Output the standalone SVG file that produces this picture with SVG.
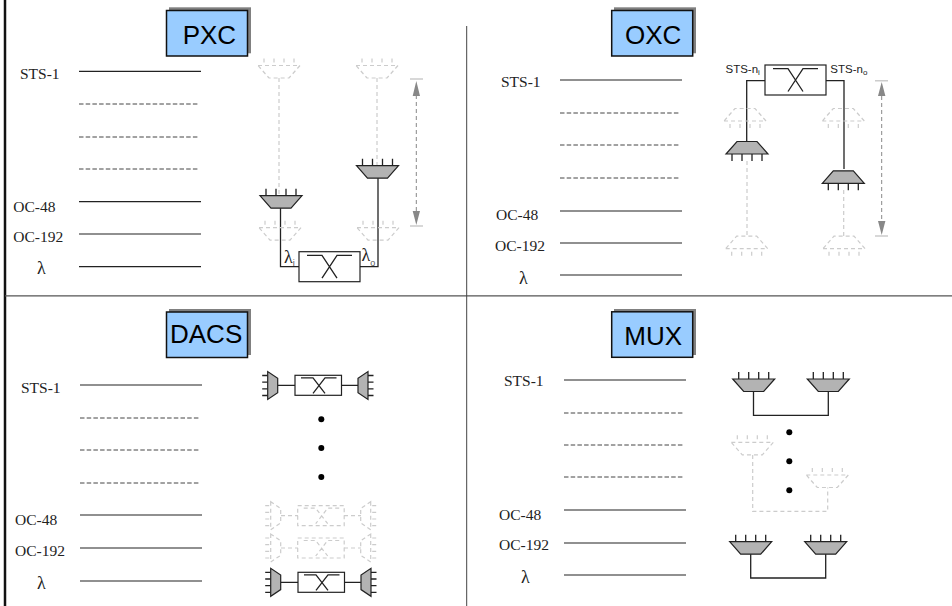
<svg xmlns="http://www.w3.org/2000/svg" width="952" height="606" viewBox="0 0 952 606">
<style>
.s{stroke:#222;stroke-width:1.3;fill:none}
.f{stroke:#ccc;stroke-width:1.2;fill:none;stroke-dasharray:4 3}
.l{stroke:#222;stroke-width:1.2;fill:none}
.d{stroke:#444;stroke-width:1;fill:none;stroke-dasharray:4.500 2.200}
.t{font-family:"Liberation Serif",serif;font-size:15.500px;fill:#222}
.big{font-size:18px}
.h{font-family:"Liberation Sans",Arial,sans-serif;font-size:26px;fill:#000}
.n{font-family:"Liberation Sans",Arial,sans-serif;font-size:11.500px;fill:#222}
.sub{font-size:8px}
.lam{font-family:"Liberation Serif",serif;font-size:18px;fill:#222}
.ls{font-family:"Liberation Sans",sans-serif;font-size:9px;fill:#555}
.tb{fill:#99ccff;stroke:#111;stroke-width:1.500}
.sh{fill:#808080}
.dot{fill:#000}
.ar{fill:#888}
.tick{stroke:#ccc;stroke-width:1.500}
.al{stroke:#888;stroke-width:1;stroke-dasharray:4 3}
</style>
<defs>
<g id="md"><path d="M-15-7V0M-5-7V0M5-7V0M15-7V0" class="s"/><path d="M-21 0H21L10 12.500H-10Z" fill="#b3b3b3" stroke="#222" stroke-width="1.200"/></g>
<g id="mdf"><path d="M-15-7V-2M-5-7V-2M5-7V-2M15-7V-2" class="f"/><path d="M-21 0H21L10 12.500H-10Z" class="f"/></g>
<g id="mu"><path d="M-15 7V0M-5 7V0M5 7V0M15 7V0" class="s"/><path d="M-21 0H21L10-12.500H-10Z" fill="#b3b3b3" stroke="#222" stroke-width="1.200"/></g>
<g id="muf"><path d="M-15 7V2M-5 7V2M5 7V2M15 7V2" class="f"/><path d="M-21 0H21L10-12.500H-10Z" class="f"/></g>
<g id="ml"><path d="M-5.500-10H0M-5.500-3.300H0M-5.500 3.300H0M-5.500 10H0" class="s"/><path d="M0-14V14L10 7.300V-7.300Z" fill="#b3b3b3" stroke="#222" stroke-width="1.200"/></g>
<g id="mr"><path d="M5.500-10H0M5.500-3.300H0M5.500 3.300H0M5.500 10H0" class="s"/><path d="M0-14V14L-10 7.300V-7.300Z" fill="#b3b3b3" stroke="#222" stroke-width="1.200"/></g>
<g id="mlf"><path d="M-5.500-10H-1M-5.500-3.300H-1M-5.500 3.300H-1M-5.500 10H-1" class="f"/><path d="M0-14V14L10 7.300V-7.300Z" class="f"/></g>
<g id="mrf"><path d="M5.500-10H1M5.500-3.300H1M5.500 3.300H1M5.500 10H1" class="f"/><path d="M0-14V14L-10 7.300V-7.300Z" class="f"/></g>
<g id="sw"><rect width="61" height="30" fill="#fff" stroke="#222" stroke-width="1.200"/><path d="M8 3.600H23L38 26.500M53 3.600H38L23 26.500" class="s"/></g>
<g id="ss"><rect width="46.500" height="20" fill="#fff" stroke="#222" stroke-width="1.200"/><path d="M6 2.500H18L30 18M41.500 2.500H30L18 18" class="s"/></g>
<g id="ssf"><rect width="46.500" height="20" class="f"/><path d="M6 2.500H18L30 18M41.500 2.500H30L18 18" class="f"/></g>
</defs>

<g id="frame">
<path d="M5 0V606" stroke="#111" stroke-width="2.500"/>
<path d="M5 295.800H952" stroke="#555" stroke-width="1.300"/>
<path d="M466.700 26V606" stroke="#444" stroke-width="1"/>
</g>

<g id="PXC-title"><rect class="sh" x="169" y="7.300" width="82" height="46"/><rect class="tb" x="166.500" y="10.500" width="81" height="45.500"/><text class="h" x="182.700" y="43.700">PXC</text></g>
<g id="OXC-title"><rect class="sh" x="614" y="7.300" width="82" height="46"/><rect class="tb" x="611.700" y="10.500" width="81" height="45.500"/><text class="h" x="625" y="43.700">OXC</text></g>
<g id="DACS-title"><rect class="sh" x="169" y="309" width="82" height="46"/><rect class="tb" x="166.500" y="312" width="81" height="45.500"/><text class="h" x="170" y="342.700">DACS</text></g>
<g id="MUX-title"><rect class="sh" x="614" y="309" width="82" height="46"/><rect class="tb" x="611.700" y="311.800" width="81" height="45.500"/><text class="h" x="624.300" y="345">MUX</text></g>

<g id="scales">
<path class="l" d="M79 71.300H201M79 201.700H201M79 234H201M79 266.700H201"/>
<path class="d" d="M79 104H198M79 137H198M79 169H198"/>
<path class="l" d="M560 80H682M560 211H682M560 243H682M560 275H682"/>
<path class="d" d="M560 113H680M560 145H680M560 178H680"/>
<path class="l" d="M80 385H202M80 515H202M80 548H202M80 581H202"/>
<path class="d" d="M80 418H199M80 450H199M80 483H199"/>
<path class="l" d="M564 380H686M564 510H686M564 543H686M564 575H686"/>
<path class="d" d="M564 413H683M564 445H683M564 477H683"/>
</g>
<g id="scale-labels">
<text class="t" x="20" y="79">STS-1</text><text class="t" x="13.300" y="212">OC-48</text><text class="t" x="13.300" y="242">OC-192</text><text class="t big" x="37" y="274">λ</text>
<text class="t" x="501" y="87">STS-1</text><text class="t" x="496" y="220">OC-48</text><text class="t" x="495" y="251">OC-192</text><text class="t big" x="519" y="284">λ</text>
<text class="t" x="21" y="393">STS-1</text><text class="t" x="15" y="525">OC-48</text><text class="t" x="15" y="556">OC-192</text><text class="t big" x="37" y="589">λ</text>
<text class="t" x="504" y="386">STS-1</text><text class="t" x="499" y="520">OC-48</text><text class="t" x="499" y="550">OC-192</text><text class="t big" x="521" y="583">λ</text>
</g>

<g id="connectors">
<path class="f" d="M279 78V195M377 78V165M747 161V236M843.700 190V236M752.700 455V511.300H827.700V487.500"/>
<path class="s" d="M280.500 208V266.700H299M378 178V266.700H360M765 80.700H746.700V142M826 80.700H844V169"/>
<path class="s" d="M277.700 385.300H295M341.700 385.300H358.300M281 582.300H298M344 582.300H361"/>
<path class="f" d="M281 515.700H298M344 515.700H361M281 548H298M344 548H361"/>
<path class="s" d="M753.500 391.700V415.300H828.300V391.700M750.700 554V578H825.700V554"/>
</g>

<g id="pxc-nodes">
<use href="#mdf" x="279" y="65.500"/><use href="#mdf" x="377" y="65.500"/>
<use href="#mdf" x="280" y="227.700"/><use href="#mdf" x="378" y="227.700"/>
<use href="#md" x="281" y="195.700"/><use href="#md" x="377.500" y="165.700"/>
<use href="#sw" x="299" y="251.700"/>
<text class="lam" x="284" y="263">λ<tspan class="ls" dy="3">i</tspan></text>
<text class="lam" x="361.500" y="261">λ<tspan class="ls" dy="5">o</tspan></text>
</g>
<g id="pxc-range">
<path class="al" d="M416.300 95V212"/><path class="tick" d="M410 79H423M410 226H423"/>
<path class="ar" d="M416.300 81L420 96H412.700ZM416.300 225L420 211H412.700Z"/>
</g>

<g id="oxc-nodes">
<use href="#muf" x="745" y="121"/><use href="#muf" x="843.300" y="121"/>
<use href="#muf" x="746.700" y="248.700"/><use href="#muf" x="844" y="248.700"/>
<use href="#mu" x="747" y="154"/><use href="#mu" x="843.300" y="183.300"/>
<use href="#sw" x="765" y="65"/>
<text class="n" x="725.500" y="73">STS-n<tspan class="sub" dy="2">i</tspan></text>
<text class="n" x="830.300" y="73">STS-n<tspan class="sub" dy="2">o</tspan></text>
</g>
<g id="oxc-range">
<path class="al" d="M881.700 96V222"/><path class="tick" d="M875 80.700H888M875 236H888"/>
<path class="ar" d="M881.700 82L885.400 96H878ZM881.700 235L885.400 221H878Z"/>
</g>

<g id="dacs-nodes">
<use href="#ml" x="267.700" y="385.500"/><use href="#ss" x="295" y="375.300"/><use href="#mr" x="368" y="385.500"/>
<use href="#mlf" x="270.700" y="515.700"/><use href="#ssf" x="297.700" y="505.700"/><use href="#mrf" x="370.700" y="515.700"/>
<use href="#mlf" x="270.700" y="548"/><use href="#ssf" x="297.700" y="538"/><use href="#mrf" x="370.700" y="548"/>
<use href="#ml" x="270.700" y="582.300"/><use href="#ss" x="298" y="572.300"/><use href="#mr" x="371" y="582.300"/>
<circle class="dot" cx="321.300" cy="419.300" r="3"/><circle class="dot" cx="321.300" cy="448" r="3"/><circle class="dot" cx="321.300" cy="477" r="3"/>
</g>

<g id="mux-nodes">
<use href="#md" x="753.700" y="379"/><use href="#md" x="828.300" y="379"/>
<use href="#mdf" x="752.300" y="442.300"/><use href="#mdf" x="827.300" y="475"/>
<use href="#md" x="750.700" y="541.700"/><use href="#md" x="825.700" y="541.700"/>
<circle class="dot" cx="789.300" cy="432.300" r="3"/><circle class="dot" cx="789.300" cy="461.300" r="3"/><circle class="dot" cx="789.300" cy="490.300" r="3"/>
</g>
</svg>
